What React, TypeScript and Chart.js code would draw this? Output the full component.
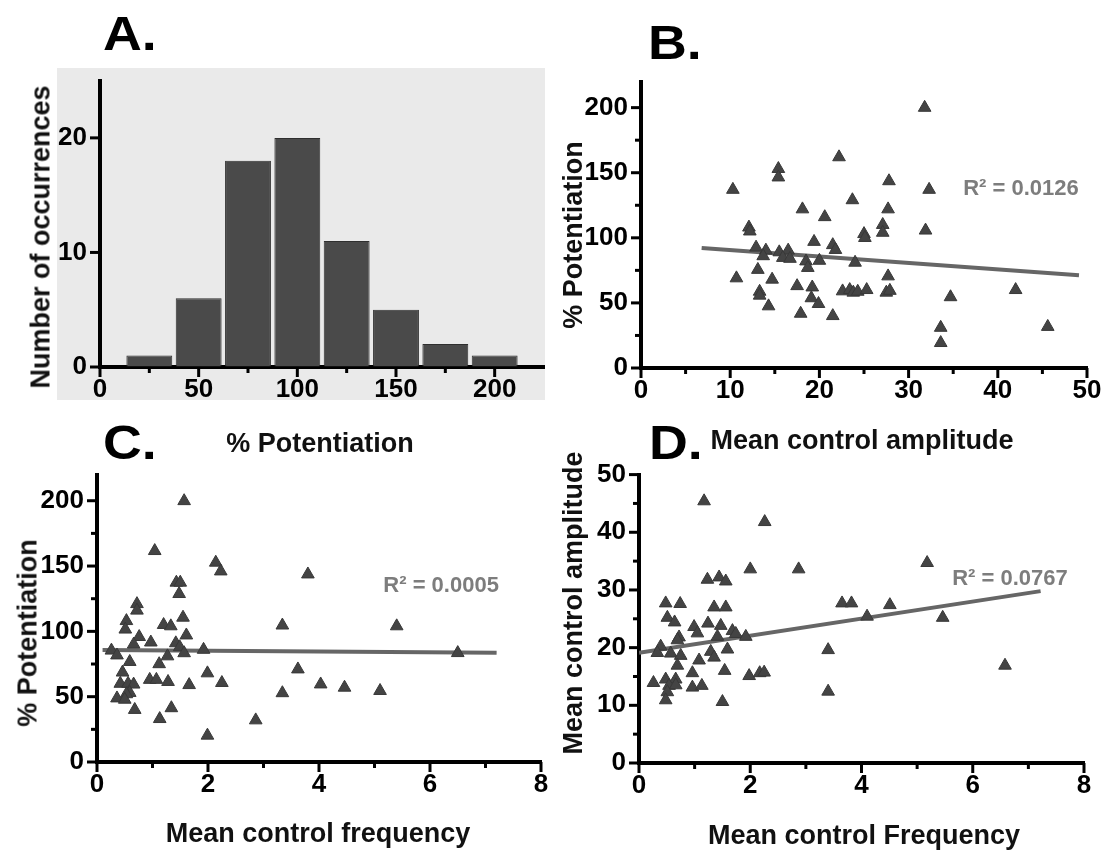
import React, { useEffect, useRef } from 'react';
import { Chart, registerables } from 'chart.js';

Chart.register(...registerables);

const FONT = "'Liberation Sans', Arial, Helvetica, sans-serif";

// ---------- Panel A: histogram ----------
const histBins = [25, 50, 75, 100, 125, 150, 175, 200];
const histCounts = [1, 6, 18, 20, 11, 5, 2, 1];

// ---------- Panel B: % potentiation vs mean control amplitude ----------
const ampB = [31.8, 22.2, 15.4, 15.4, 10.3, 32.3, 27.8, 23.7, 18.1, 20.6, 27.7, 12.1, 12.2, 27.1, 27.1, 25.0, 25.1, 31.9, 19.4, 21.5, 21.8, 12.9, 14.0, 13.7, 15.5, 16.5, 15.9, 16.7, 18.5, 18.7, 24.0, 10.7, 13.1, 14.7, 13.3, 13.3, 14.3, 17.5, 19.2, 19.1, 19.9, 17.9, 21.5, 22.6, 23.4, 23.8, 24.3, 25.3, 27.7, 27.5, 27.9, 34.7, 42.0, 33.6, 33.6, 45.6, 20.0];
const potB = [200, 162, 153, 146.5, 137, 137, 143.6, 129, 122, 116, 122, 108, 105, 110, 104, 103, 100, 105.7, 97, 94.5, 90.8, 92.6, 90.3, 86, 89, 90.3, 84.7, 84, 82, 77, 81, 69, 75.5, 68, 58.7, 55.7, 47.5, 63, 62, 53.7, 49.3, 41.8, 40, 59, 60, 58, 58.7, 60, 70.5, 58, 59.4, 54.5, 60, 31, 19.3, 31.7, 82.5];
const fitBx = [6.8, 49.1];
const fitBy = [92.2, 71.3];

// ---------- Panel C: % potentiation vs mean control frequency ----------
const freqC = [1.57, 1.04, 2.14, 2.23, 1.43, 1.5, 1.48, 0.72, 0.72, 0.53, 0.51, 1.2, 1.33, 1.55, 1.61, 0.76, 0.97, 0.66, 1.42, 1.49, 1.57, 0.26, 0.36, 1.92, 1.27, 0.59, 1.12, 0.46, 1.99, 0.42, 0.56, 0.66, 0.59, 0.53, 0.36, 0.5, 0.95, 1.07, 1.28, 1.66, 2.25, 0.68, 1.34, 1.13, 1.99, 2.86, 3.8, 3.34, 5.4, 6.5, 3.62, 4.03, 4.46, 5.1, 3.34];
const potC = [199.8, 161.6, 152.7, 146, 137.4, 137.4, 128.7, 121, 116, 108, 101.5, 105, 104, 110.6, 97, 95.8, 91.6, 90, 91, 88, 83.4, 85.4, 81.7, 86, 81, 76.7, 75, 68.6, 68, 60, 60, 59.4, 53, 52, 48.8, 47.8, 63, 63, 61.4, 59, 60.6, 40, 41.3, 33, 20.3, 32, 143.7, 104.6, 104, 83.5, 71, 59.5, 57, 54.5, 52.8];
const fitCx = [0.1, 7.2];
const fitCy = [85.8, 83.6];

// ---------- Panel D: mean control amplitude vs mean control frequency ----------
const freqD = [1.17, 2.26, 2.0, 2.87, 1.23, 1.44, 1.56, 0.48, 0.74, 1.35, 1.56, 0.51, 0.64, 0.99, 1.05, 1.24, 1.47, 1.68, 1.74, 1.92, 1.41, 0.72, 0.69, 0.39, 0.33, 0.57, 0.75, 1.29, 1.35, 1.59, 1.08, 0.69, 0.96, 1.54, 1.98, 2.17, 2.25, 0.26, 0.48, 0.66, 0.54, 0.66, 0.96, 1.13, 0.51, 0.48, 1.5, 3.4, 3.4, 5.18, 3.65, 3.82, 4.51, 4.1, 5.46, 6.58];
const ampD = [45.4, 41.8, 33.6, 33.6, 31.8, 32.2, 31.5, 27.7, 27.6, 27, 27, 25.2, 24.4, 23.6, 22.5, 24.2, 23.8, 22.9, 22.4, 21.9, 21.9, 21.8, 21.3, 20.2, 19.1, 19, 18.6, 19.3, 18.3, 19.7, 17.8, 16.9, 15.6, 16, 15.1, 15.6, 15.7, 13.9, 14.5, 14.5, 13.4, 13.5, 13.1, 13.4, 12.3, 10.9, 10.6, 19.6, 12.4, 34.7, 27.7, 27.7, 27.4, 25.4, 25.2, 16.9];
const fitDx = [0.0, 7.22];
const fitDy = [19.1, 29.8];

// ---------- text ----------
const r2B = 'R\u00B2 = 0.0126';
const r2C = 'R\u00B2 = 0.0005';
const r2D = 'R\u00B2 = 0.0767';

// ---------- layout ----------
const ML = 70;
const MT = 20;
const MR = 25;
const MB = 60;

type Area = { L: number; T: number; R: number; B: number };

const tickPlugin = {
  id: 'axisTicks',
  afterDraw(chart: any, _a: any, o: any) {
    if (!o || !o.x) return;
    const { ctx, chartArea: a, scales } = chart;
    ctx.save();
    ctx.strokeStyle = '#000';
    ctx.lineWidth = 3;
    const draw = (axis: any, scale: any, horiz: boolean) => {
      for (let i = 0; i <= axis.n; i++) {
        const v = i * axis.step;
        const major = i % axis.every === 0;
        const len = major ? 9 : 5;
        const p = scale.getPixelForValue(v);
        ctx.beginPath();
        if (horiz) {
          ctx.moveTo(p, a.bottom);
          ctx.lineTo(p, a.bottom + len + 1);
        } else {
          ctx.moveTo(a.left, p);
          ctx.lineTo(a.left - len - 1, p);
        }
        ctx.stroke();
      }
    };
    draw(o.x, scales.x, true);
    draw(o.y, scales.y, false);
    ctx.restore();
  },
};

const r2Plugin = {
  id: 'r2Label',
  afterDatasetsDraw(chart: any, _a: any, o: any) {
    if (!o || !o.text) return;
    const { ctx, scales } = chart;
    const px = scales.x.getPixelForValue(o.x);
    const py = scales.y.getPixelForValue(o.y);
    ctx.save();
    ctx.font = `bold 22px ${FONT}`;
    ctx.fillStyle = '#7d7d7d';
    ctx.textAlign = 'center';
    ctx.textBaseline = 'middle';
    ctx.fillText(o.text, px, py);
    ctx.restore();
  },
};

function axisBase(min: number, max: number, step: number, isX: boolean) {
  return {
    type: 'linear',
    min,
    max,
    offset: false,
    afterFit: (s: any) => {
      if (isX) s.height = MB;
      else s.width = ML;
    },
    border: { display: true, width: 4, color: '#000' },
    grid: { display: true, drawOnChartArea: false, drawTicks: false, offset: false },
    ticks: {
      stepSize: step,
      includeBounds: false,
      padding: isX ? 7 : 13,
      color: '#000',
      font: { family: FONT, size: 26, weight: 'bold' },
    },
  };
}

function toPts(xs: number[], ys: number[]) {
  return xs.map((x, i) => ({ x, y: ys[i] }));
}

function scatterConfig(
  xs: number[], ys: number[], fx: number[], fy: number[],
  xr: [number, number, number], yr: [number, number, number],
  ticks: any, r2: any
) {
  return {
    type: 'scatter',
    data: {
      datasets: [
        {
          type: 'line',
          data: toPts(fx, fy),
          borderColor: '#666666',
          borderWidth: 4,
          pointRadius: 0,
          fill: false,
          order: 2,
        },
        {
          data: toPts(xs, ys),
          pointStyle: 'triangle',
          pointRadius: 7.3,
          backgroundColor: '#444444',
          borderColor: '#383838',
          borderWidth: 1,
          order: 1,
        },
      ],
    },
    options: {
      responsive: false,
      animation: false,
      layout: { padding: { left: 0, top: MT, right: MR, bottom: 0 } },
      scales: {
        x: axisBase(xr[0], xr[1], xr[2], true),
        y: axisBase(yr[0], yr[1], yr[2], false),
      },
      plugins: {
        legend: { display: false },
        tooltip: { enabled: false },
        axisTicks: ticks,
        r2Label: r2,
      },
    },
    plugins: [tickPlugin, r2Plugin],
  };
}

const histConfig = {
  type: 'bar',
  data: {
    datasets: [
      {
        data: toPts(histBins, histCounts),
        backgroundColor: '#4a4a4a',
        borderColor: '#2f2f2f',
        borderWidth: 1,
        barPercentage: 0.93,
        categoryPercentage: 1,
      },
    ],
  },
  options: {
    responsive: false,
    animation: false,
    layout: { padding: { left: 0, top: MT, right: MR, bottom: 0 } },
    scales: {
      x: axisBase(0, 225, 50, true),
      y: axisBase(0, 25, 10, false),
    },
    plugins: {
      legend: { display: false },
      tooltip: { enabled: false },
      axisTicks: { x: { step: 25, every: 2, n: 8 }, y: { step: 10, every: 1, n: 2 } },
    },
  },
  plugins: [tickPlugin],
};

const cfgB = scatterConfig(ampB, potB, fitBx, fitBy, [0, 50, 10], [0, 220, 50],
  { x: { step: 5, every: 2, n: 10 }, y: { step: 25, every: 2, n: 8 } },
  { text: r2B, x: 42.6, y: 137.4 });
const cfgC = scatterConfig(freqC, potC, fitCx, fitCy, [0, 8, 2], [0, 220, 50],
  { x: { step: 1, every: 2, n: 8 }, y: { step: 25, every: 2, n: 8 } },
  { text: r2C, x: 6.2, y: 135 });
const cfgD = scatterConfig(freqD, ampD, fitDx, fitDy, [0, 8, 2], [0, 50, 10],
  { x: { step: 1, every: 2, n: 8 }, y: { step: 5, every: 2, n: 10 } },
  { text: r2D, x: 6.67, y: 31.9 });

function Panel({ area, config }: { area: Area; config: any }) {
  const ref = useRef<HTMLCanvasElement | null>(null);
  const w = Math.round(area.R - area.L + ML + MR);
  const h = Math.round(area.B - area.T + MT + MB);
  useEffect(() => {
    if (!ref.current) return;
    const chart = new Chart(ref.current, config);
    return () => chart.destroy();
  }, [config]);
  return (
    <canvas
      ref={ref}
      width={w}
      height={h}
      style={{ position: 'absolute', left: area.L - ML, top: area.T - MT, width: w, height: h }}
    />
  );
}

function Txt({ x, y, text, rot, size = 27, color = '#111' }: { x: number; y: number; text: string; rot?: boolean; size?: number; color?: string }) {
  return (
    <div
      style={{
        position: 'absolute',
        left: x,
        top: y,
        transform: `translate(-50%, -50%)${rot ? ' rotate(-90deg)' : ''}`,
        whiteSpace: 'nowrap',
        fontFamily: FONT,
        fontWeight: 'bold',
        fontSize: size,
        lineHeight: 1,
        color,
      }}
    >
      {text}
    </div>
  );
}

function Letter({ x, y, text }: { x: number; y: number; text: string }) {
  return (
    <div
      style={{
        position: 'absolute',
        left: x,
        top: y,
        fontFamily: FONT,
        fontWeight: 'bold',
        fontSize: 48,
        lineHeight: 1,
        color: '#000',
        transform: 'scaleX(1.12)',
        transformOrigin: 'left top',
        whiteSpace: 'nowrap',
      }}
    >
      {text}
    </div>
  );
}

const areaA: Area = { L: 100, T: 72, R: 544, B: 367 };
const areaB: Area = { L: 641, T: 73, R: 1087, B: 368 };
const areaC: Area = { L: 97, T: 466, R: 541, B: 762 };
const areaD: Area = { L: 639, T: 466, R: 1084, B: 763 };

export default function App() {
  return (
    <div style={{ position: 'absolute', left: 0, top: 0, width: 1113, height: 854, background: '#fff', overflow: 'hidden' }}>
      <div style={{ position: 'absolute', left: 57, top: 68, width: 488, height: 332, background: '#eaeaea' }} />
      <Panel area={areaA} config={histConfig} />
      <Panel area={areaB} config={cfgB} />
      <Panel area={areaC} config={cfgC} />
      <Panel area={areaD} config={cfgD} />

      <Letter x={103} y={10} text="A." />
      <Letter x={648} y={19} text="B." />
      <Letter x={103} y={419} text="C." />
      <Letter x={649} y={419} text="D." />

      <Txt x={41} y={237} text="Number of occurrences" rot />
      <Txt x={320} y={443} text="% Potentiation" />
      <Txt x={573} y={235} text="% Potentiation" rot />
      <Txt x={862} y={440} text="Mean control amplitude" />
      <Txt x={28} y={633} text="% Potentiation" rot />
      <Txt x={318} y={833} text="Mean control frequency" />
      <Txt x={573} y={603} text="Mean control amplitude" rot />
      <Txt x={864} y={835} text="Mean control Frequency" />
    </div>
  );
}
